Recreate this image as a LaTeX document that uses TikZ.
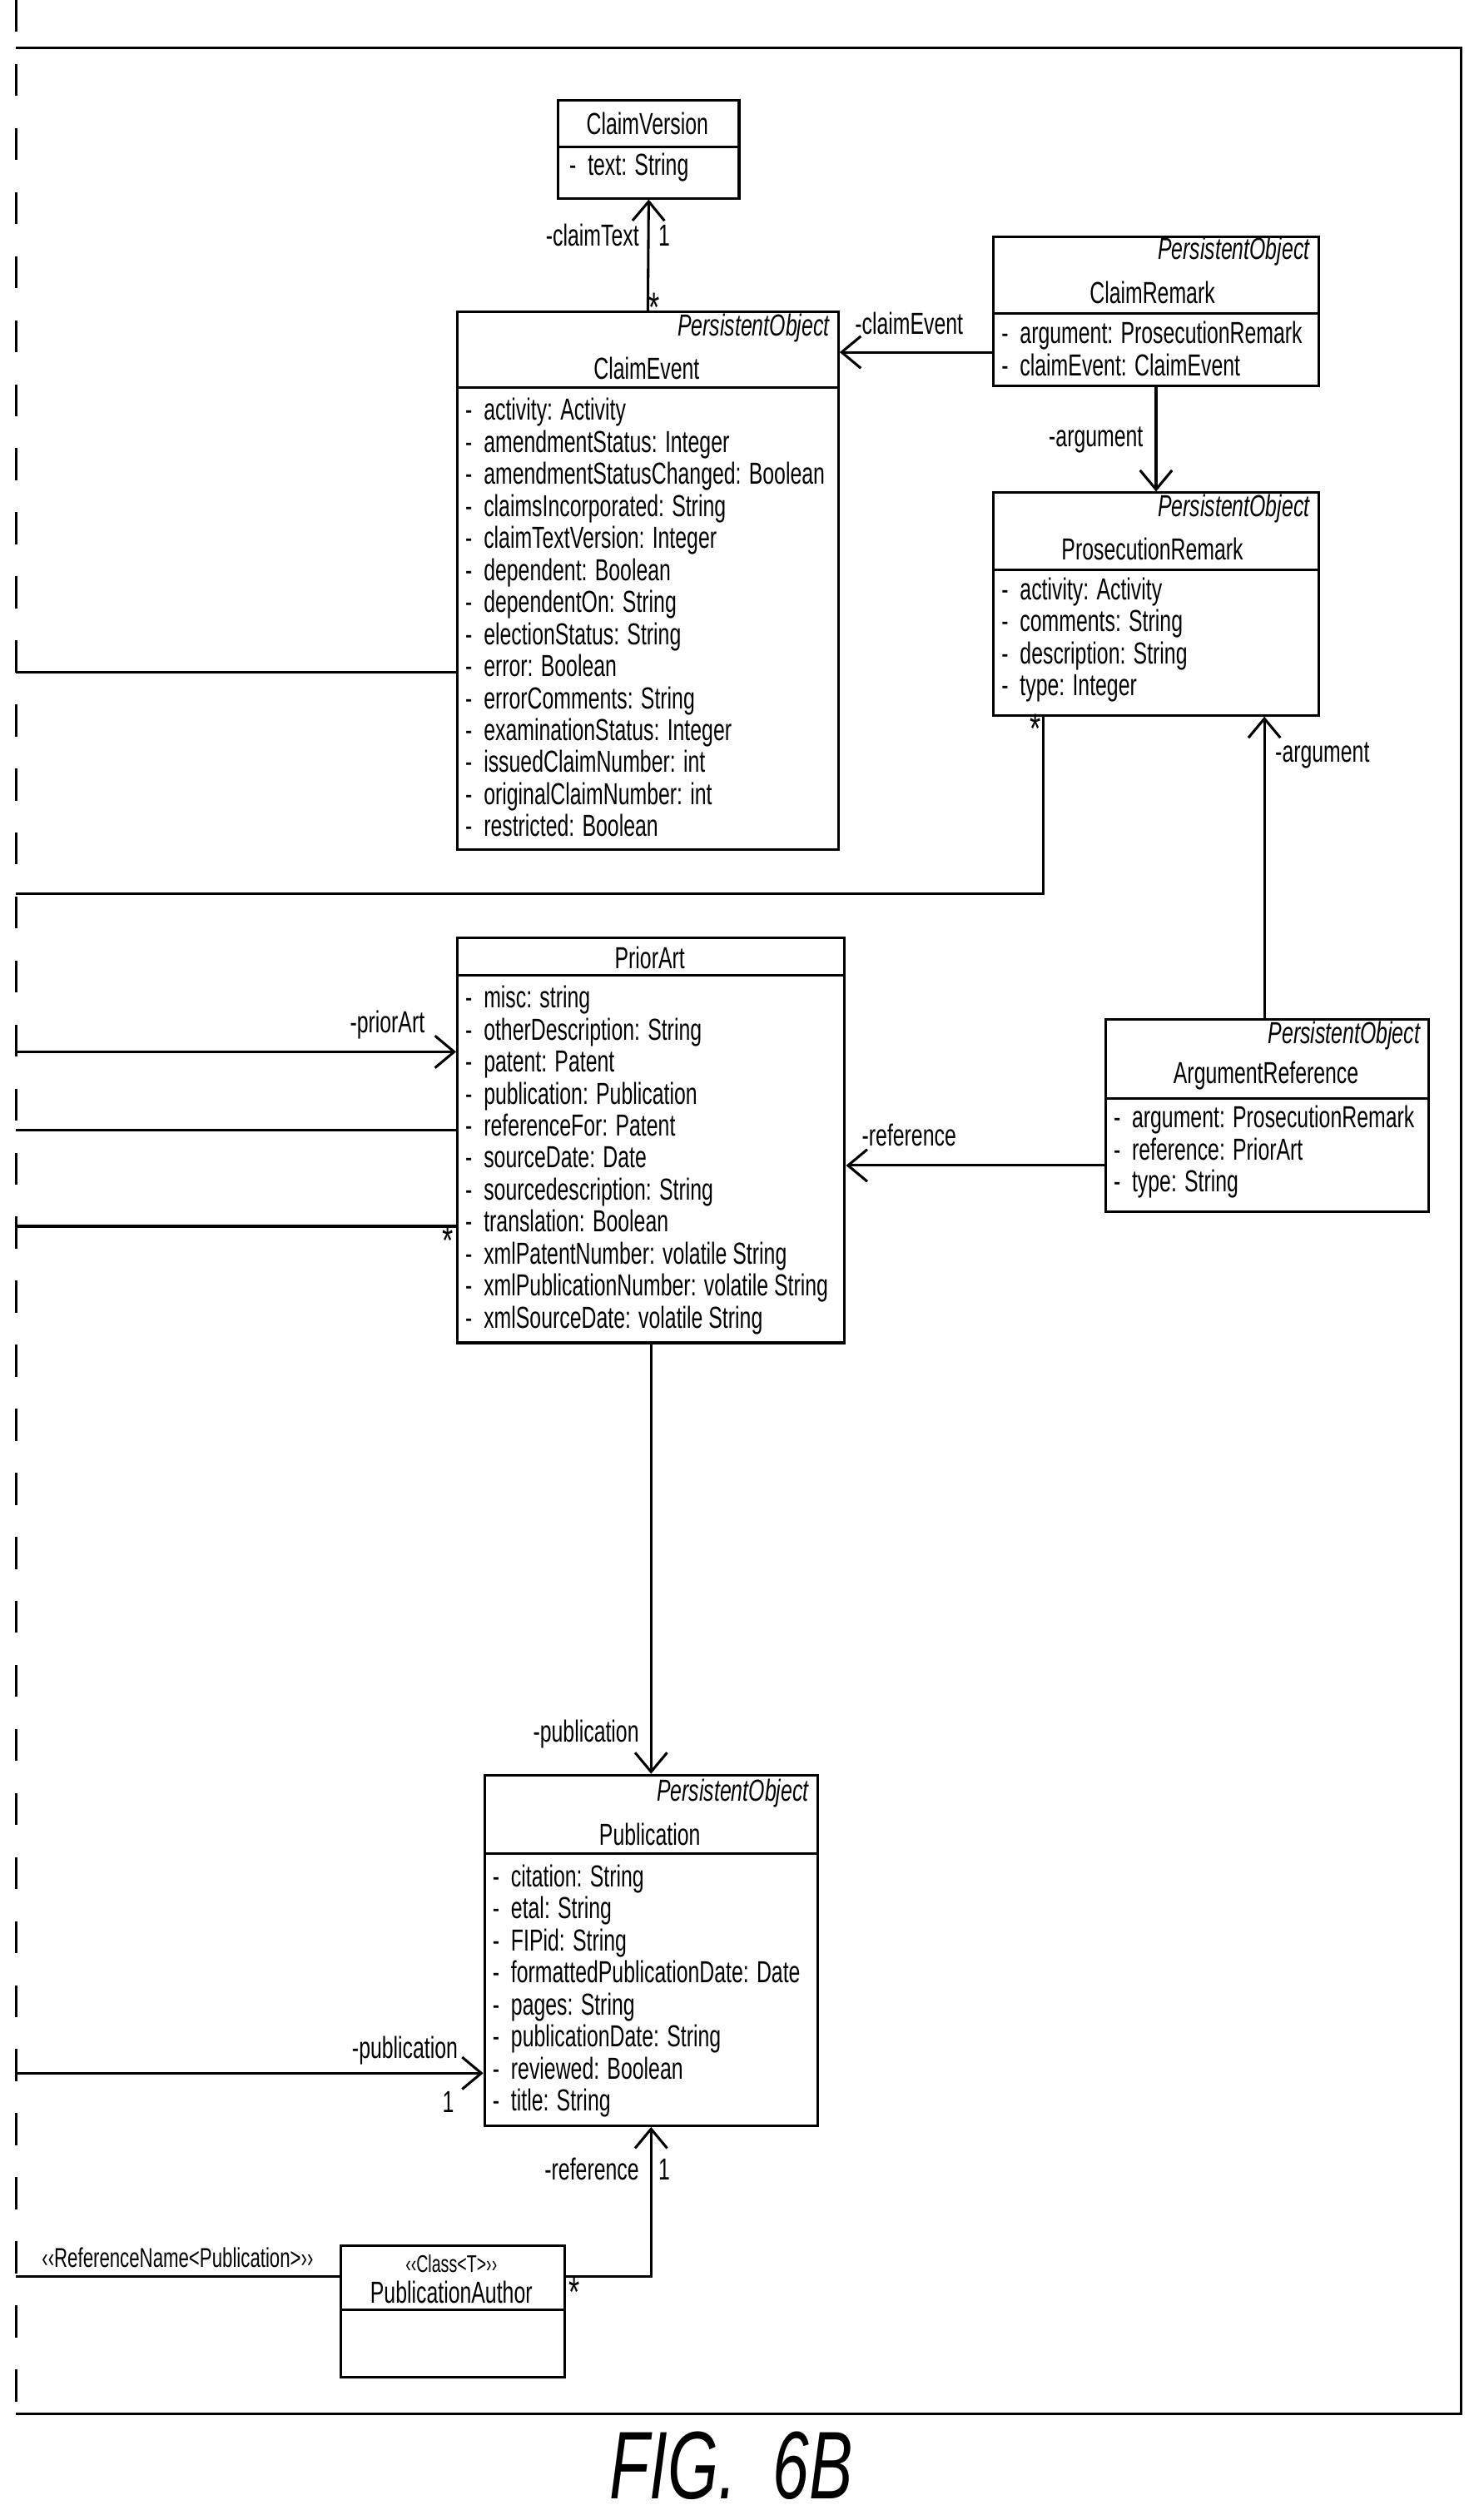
\documentclass[tikz,border=0pt]{standalone}
\usepackage{fontspec}
\setmainfont{Liberation Sans}[FakeStretch=0.68]
\usetikzlibrary{arrows.meta}
\tikzset{every picture/.style={line width=0.8pt}}
\tikzset{
  umlbox/.style={draw, anchor=north west, inner sep=0pt},
  attr/.style={anchor=north west, inner sep=0.5pt, align=left, font=\fontsize{9.5}{10}\selectfont},
  lbl/.style={inner sep=0.5pt, font=\fontsize{9.5}{10}\selectfont},
  mult/.style={inner sep=0.5pt, font=\fontsize{13}{13}\selectfont},
  assoc/.style={-{Straight Barb[length=6pt,width=10pt,line width=0.8pt]}}
}
\begin{document}
\begin{tikzpicture}[x=0.5pt,y=0.5pt,yscale=-1,xscale=1]
    \useasboundingbox (0,0) rectangle (927,1571);

    %Frame
    \draw (10,30) -- (913,30) -- (913,1508) -- (10,1508) ;
    \draw [dash pattern=on 10pt off 10pt] (10,0) -- (10,1500) ;

    %Class ClaimVersion
    \node (cv) [umlbox, minimum width=56.5pt, minimum height=30.5pt] at (348,62) {};
    \draw (348,92) -- (461,92) ;
    \node (cvn) [lbl] at (404.5,77) {ClaimVersion};
    \node (cva) [attr] at (354,94) {-~ text: String};

    %Class ClaimEvent
    \node (ce) [umlbox, minimum width=119pt, minimum height=168pt] at (285,194) {};
    \draw (285,242) -- (523,242) ;
    \node (ces) [lbl, anchor=east] at (520,205) {\itshape PersistentObject};
    \node (cen) [lbl] at (404,230) {ClaimEvent};
    \node (cea) [attr] at (289,247) {-~ activity: Activity\\-~ amendmentStatus: Integer\\-~ amendmentStatusChanged: Boolean\\-~ claimsIncorporated: String\\-~ claimTextVersion: Integer\\-~ dependent: Boolean\\-~ dependentOn: String\\-~ electionStatus: String\\-~ error: Boolean\\-~ errorComments: String\\-~ examinationStatus: Integer\\-~ issuedClaimNumber: int\\-~ originalClaimNumber: int\\-~ restricted: Boolean};

    %Class ClaimRemark
    \node (cr) [umlbox, minimum width=101.5pt, minimum height=46.5pt] at (620,147) {};
    \draw (620,196) -- (823,196) ;
    \node (crs) [lbl, anchor=east] at (820,157) {\itshape PersistentObject};
    \node (crn) [lbl] at (720,183) {ClaimRemark};
    \node (cra) [attr] at (624,199) {-~ argument: ProsecutionRemark\\-~ claimEvent: ClaimEvent};

    %Class ProsecutionRemark
    \node (pr) [umlbox, minimum width=101.5pt, minimum height=69.5pt] at (620,307) {};
    \draw (620,356) -- (823,356) ;
    \node (prs) [lbl, anchor=east] at (820,318) {\itshape PersistentObject};
    \node (prn) [lbl] at (720,343) {ProsecutionRemark};
    \node (pra) [attr] at (624,359) {-~ activity: Activity\\-~ comments: String\\-~ description: String\\-~ type: Integer};

    %Class PriorArt
    \node (pa) [umlbox, minimum width=121pt, minimum height=126.5pt] at (285,585) {};
    \draw (285,609) -- (527,609) ;
    \node (pan) [lbl] at (406,598) {PriorArt};
    \node (paa) [attr] at (289,614) {-~ misc: string\\-~ otherDescription: String\\-~ patent: Patent\\-~ publication: Publication\\-~ referenceFor: Patent\\-~ sourceDate: Date\\-~ sourcedescription: String\\-~ translation: Boolean\\-~ xmlPatentNumber: volatile String\\-~ xmlPublicationNumber: volatile String\\-~ xmlSourceDate: volatile String};

    %Class ArgumentReference
    \node (ar) [umlbox, minimum width=101pt, minimum height=60pt] at (690,636) {};
    \draw (690,686) -- (892,686) ;
    \node (ars) [lbl, anchor=east] at (889,647) {\itshape PersistentObject};
    \node (arn) [lbl] at (791,672) {ArgumentReference};
    \node (ara) [attr] at (694,689) {-~ argument: ProsecutionRemark\\-~ reference: PriorArt\\-~ type: String};

    %Class Publication
    \node (pu) [umlbox, minimum width=104pt, minimum height=109.5pt] at (302,1108) {};
    \draw (302,1158) -- (510,1158) ;
    \node (pus) [lbl, anchor=east] at (507,1120) {\itshape PersistentObject};
    \node (pun) [lbl] at (406,1146) {Publication};
    \node (pua) [attr] at (306,1163) {-~ citation: String\\-~ etal: String\\-~ FIPid: String\\-~ formattedPublicationDate: Date\\-~ pages: String\\-~ publicationDate: String\\-~ reviewed: Boolean\\-~ title: String};

    %Class PublicationAuthor
    \node (pau) [umlbox, minimum width=70pt, minimum height=41pt] at (212,1402) {};
    \draw (212,1443) -- (352,1443) ;
    \node (paus) [lbl, font=\fontsize{7.5}{8}\selectfont] at (282,1414) {‹‹Class<T>››};
    \node (paun) [lbl] at (282,1432) {PublicationAuthor};

    %Connectors
    \coordinate (l420) at (10,420);
    \coordinate (l558) at (10,558);
    \coordinate (l657) at (10,657);
    \coordinate (l706) at (10,706);
    \coordinate (l766) at (10,766);
    \coordinate (l1295) at (10,1295);
    \coordinate (l1422) at (10,1422);

    \draw [assoc] (ce.north) -- (cv.south) ;
    \draw [assoc] (cr.west |- 0,220) -- (ce.east |- 0,220) ;
    \draw [assoc] (cr.south) -- (pr.north) ;
    \draw (l420) -- (ce.west |- l420) ;
    \draw (l558) -| (652,0 |- pr.south) ;
    \draw [assoc] (ar.north -| 790,0) -- (pr.south -| 790,0) ;
    \draw [assoc] (ar.west |- 0,728) -- (pa.east |- 0,728) ;
    \draw [assoc] (l657) -- (pa.west |- l657) ;
    \draw (l706) -- (pa.west |- l706) ;
    \draw (l766) -- (pa.west |- l766) ;
    \draw [assoc] (pa.south -| pu.north) -- (pu.north) ;
    \draw [assoc] (l1295) -- (pu.west |- l1295) ;
    \draw [assoc] (pau.east |- l1422) -| (pu.south) ;
    \draw (l1422) -- (pau.west |- l1422) ;

    %Labels
    \node [lbl, anchor=east] at (401,147) {-claimText};
    \node [lbl] at (415,147) {1};
    \node [mult] at (409,192) {*};
    \node [lbl] at (568,202) {-claimEvent};
    \node [lbl, anchor=east] at (716,275) {-argument};
    \node [mult] at (647,455) {*};
    \node [lbl, anchor=west] at (795,472) {-argument};
    \node [lbl] at (568,709) {-reference};
    \node [lbl] at (242,640) {-priorArt};
    \node [mult] at (280,775) {*};
    \node [lbl, anchor=east] at (401,1083) {-publication};
    \node [lbl] at (253,1281) {-publication};
    \node [lbl] at (280,1313) {1};
    \node [lbl, anchor=east] at (401,1355) {-reference};
    \node [lbl] at (415,1355) {1};
    \node [mult] at (359,1432) {*};
    \node [lbl, font=\fontsize{8.5}{9}\selectfont] at (111,1410) {‹‹ReferenceName<Publication>››};

    \node (fig) [inner sep=0pt, font=\fontsize{30}{30}\selectfont\itshape] at (457,1540) {FIG.~~6B};
\end{tikzpicture}
\end{document}
